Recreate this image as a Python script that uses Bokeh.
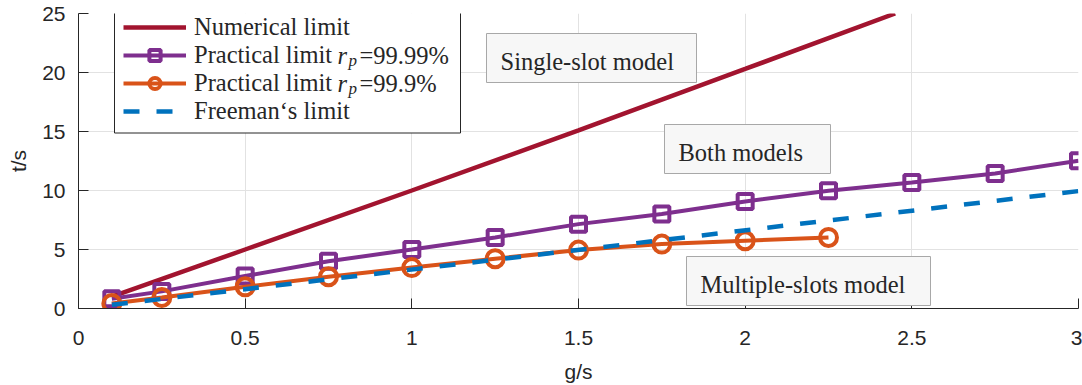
from bokeh.plotting import figure
from bokeh.models import (Legend, LegendItem, Label, BoxAnnotation, FixedTicker,
                          Range1d, NumeralTickFormatter)
from bokeh.embed import file_html
from bokeh.resources import INLINE

# ---------------- data ----------------
numerical_g = [0.1, 0.5, 1.0, 1.5, 2.0, 2.45]
numerical_t = [1.0, 5.0, 10.0, 15.1, 20.3, 25.0]

practical_9999_g = [0.1, 0.25, 0.5, 0.75, 1.0, 1.25, 1.5, 1.75, 2.0, 2.25, 2.5, 2.75, 3.0]
practical_9999_t = [0.82, 1.45, 2.75, 4.0, 5.0, 6.02, 7.15, 8.0, 9.07, 9.97, 10.68, 11.44, 12.52]

practical_999_g = [0.1, 0.25, 0.5, 0.75, 1.0, 1.25, 1.5, 1.75, 2.0, 2.25]
practical_999_t = [0.42, 0.93, 1.84, 2.69, 3.47, 4.22, 4.95, 5.46, 5.74, 6.02]

freeman_g = [0.1, 3.0]
freeman_t = [0.31, 9.95]

x_ticks = [0, 0.5, 1, 1.5, 2, 2.5, 3]
x_tick_labels = ["0", "0.5", "1", "1.5", "2", "2.5", "3"]
y_ticks = [0, 5, 10, 15, 20, 25]
y_tick_labels = ["0", "5", "10", "15", "20", "25"]

series_labels = ["Numerical limit", "Practical limit", "Practical limit", "Freeman\u2018s limit"]

# ---------------- style ----------------
RED = "#A2142F"
PURPLE = "#7E2F8E"
ORANGE = "#D95319"
BLUE = "#0072BD"
INK = "#262626"
SERIF = "Liberation Serif"
SANS = "Liberation Sans"
TXT = "24.5px"

# page-pixel -> data helpers for annotation placement (frame: x 78..1078, y 13..308)
def px2x(px):
    return (px - 78) * 3.0 / 1000.0

def py2y(py):
    return (308 - py) * 25.0 / 295.0

p = figure(width=1082, height=385, x_range=Range1d(0, 3), y_range=Range1d(0, 25),
           output_backend="svg", toolbar_location=None,
           min_border_left=78, min_border_right=4, min_border_top=13, min_border_bottom=77,
           x_axis_label="g/s", y_axis_label="t/s")
p.outline_line_color = None
p.background_fill_color = "white"

# axes
p.xaxis.ticker = FixedTicker(ticks=x_ticks)
p.yaxis.ticker = FixedTicker(ticks=y_ticks)
p.xaxis.formatter = NumeralTickFormatter(format="0.[0]")
p.yaxis.formatter = NumeralTickFormatter(format="0")
p.xaxis.major_label_overrides = {t: l for t, l in zip(x_ticks, x_tick_labels)}
p.yaxis.major_label_overrides = {t: l for t, l in zip(y_ticks, y_tick_labels)}
for ax in (p.xaxis[0], p.yaxis[0]):
    ax.axis_line_color = INK
    ax.axis_line_width = 1
    ax.major_tick_line_color = INK
    ax.major_tick_line_width = 1
    ax.major_tick_in = 10
    ax.major_tick_out = 0
    ax.minor_tick_line_color = None
    ax.major_label_text_font = SANS
    ax.major_label_text_font_size = "21px"
    ax.major_label_text_color = INK
    ax.axis_label_text_font = SANS
    ax.axis_label_text_font_size = "21px"
    ax.axis_label_text_font_style = "normal"
    ax.axis_label_text_color = INK
p.xaxis.major_label_standoff = 22
p.xaxis.axis_label_standoff = 12
p.yaxis.major_label_standoff = 13
p.yaxis.axis_label_standoff = 9

p.xgrid.ticker = FixedTicker(ticks=x_ticks)
p.ygrid.ticker = FixedTicker(ticks=y_ticks)
p.grid.grid_line_color = "#e2e2e2"
p.grid.grid_line_width = 1

# series
r_num = p.line(numerical_g, numerical_t, line_color=RED, line_width=4.5)
r_p1l = p.line(practical_9999_g, practical_9999_t, line_color=PURPLE, line_width=4)
r_p1m = p.scatter(practical_9999_g, practical_9999_t, marker="square", size=15,
                  line_color=PURPLE, line_width=4, fill_color=None)
r_p2l = p.line(practical_999_g, practical_999_t, line_color=ORANGE, line_width=4)
r_p2m = p.scatter(practical_999_g, practical_999_t, marker="circle", size=17,
                  line_color=ORANGE, line_width=4, fill_color=None)
r_fr = p.line(freeman_g, freeman_t, line_color=BLUE, line_width=4.5, line_dash="16 17")

# text boxes
boxes = [
    ("Single-slot model", 486, 696, 33, 82, 500, 61),
    ("Both models", 664, 830, 124, 173, 678, 151.5),
    ("Multiple-slots model", 686, 930, 256, 305, 700, 284),
]
for text, l, r, t, b, tx, ty in boxes:
    p.add_layout(BoxAnnotation(left=px2x(l), right=px2x(r), top=py2y(t), bottom=py2y(b),
                               fill_color="#f7f7f7", fill_alpha=1.0,
                               line_color="#a8a8a8", line_alpha=1.0, line_width=1))
    p.add_layout(Label(x=px2x(tx), y=py2y(ty), text=text, text_font=SERIF,
                       text_font_size=TXT, text_color=INK, text_baseline="alphabetic",
                       text_align="left"))

# legend frame
p.add_layout(BoxAnnotation(left=px2x(114), right=px2x(460), top=py2y(10), bottom=py2y(132.5),
                           fill_color="white", fill_alpha=1.0,
                           line_color=INK, line_alpha=1.0, line_width=1))

legend = Legend(items=[
    LegendItem(label=series_labels[0], renderers=[r_num]),
    LegendItem(label=series_labels[1], renderers=[r_p1l, r_p1m]),
    LegendItem(label=series_labels[2], renderers=[r_p2l, r_p2m]),
    LegendItem(label=series_labels[3], renderers=[r_fr]),
], location=(45, 183), orientation="vertical", padding=0, margin=0, spacing=0,
   glyph_width=63, glyph_height=28, label_height=28, label_standoff=8,
   label_text_font=SERIF, label_text_font_size=TXT, label_text_color=INK,
   border_line_color=None, background_fill_alpha=0.0)
p.add_layout(legend)

# subscripted parts of the legend labels
for row_y, pct in ((55, "=99.99%"), (83, "=99.9%")):
    p.add_layout(Label(x=px2x(337), y=py2y(row_y), text="r", text_font=SERIF,
                       text_font_style="italic", text_font_size=TXT, text_color=INK,
                       text_baseline="middle"))
    p.add_layout(Label(x=px2x(348), y=py2y(row_y + 5), text="p", text_font=SERIF,
                       text_font_style="italic", text_font_size="17px", text_color=INK,
                       text_baseline="middle"))
    p.add_layout(Label(x=px2x(359), y=py2y(row_y), text=pct, text_font=SERIF,
                       text_font_size=TXT, text_color=INK, text_baseline="middle"))

open("out.html", "w").write(file_html(p, INLINE))
